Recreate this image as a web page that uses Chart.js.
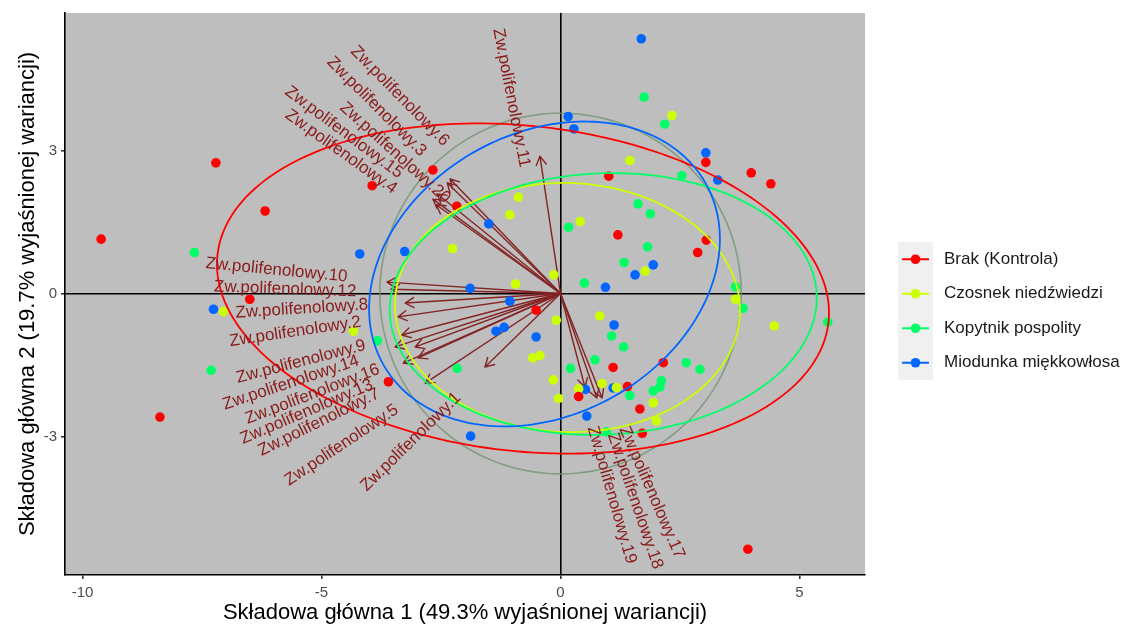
<!DOCTYPE html>
<html>
<head>
<meta charset="utf-8">
<script src="https://cdn.jsdelivr.net/npm/chart.js@4.4.1/dist/chart.umd.min.js"></script>
<style>
  html, body { margin: 0; padding: 0; background: #ffffff; }
  #wrap { width: 1129px; height: 628px; }
</style>
</head>
<body>
<div id="wrap"><canvas id="biplot" width="1129" height="628"></canvas></div>
<script>
// ---- Groups ----
const groups = ['Brak (Kontrola)', 'Czosnek niedźwiedzi', 'Kopytnik pospolity', 'Miodunka miękkowłosa'];

// ---- Sample scores on PC1 / PC2, one pair of arrays per group ----
const brakPC1 = [-7.21, -6.18, -9.61, -2.67, -3.94, -2.17, -6.50, -8.38, -3.60, -0.51, 1.01, 1.20, 3.05, 2.87, 3.04, 3.99, 4.40, 1.10, 2.15, 0.38, 1.40, 1.66, 1.71, 3.92];
const brakPC2 = [2.74, 1.73, 1.14, 2.59, 2.26, 1.83, -0.12, -2.59, -1.85, -0.35, 2.46, 1.23, 1.12, 0.86, 2.75, 2.53, 2.30, -1.55, -1.45, -2.16, -1.95, -2.42, -2.93, -5.36];

const czosnekPC1 = [-2.26, -0.88, -1.06, 0.41, 1.45, 2.33, 1.77, -0.14, -0.94, 3.66, 4.47, -7.05, -4.33, -0.09, 0.82, -0.43, -0.58, -0.15, -0.04, 0.38, 0.87, 1.17, 1.94, 2.01];
const czosnekPC2 = [0.94, 2.02, 1.65, 1.51, 2.79, 3.73, 0.47, 0.39, 0.20, -0.12, -0.68, -0.38, -0.79, -0.56, -0.47, -1.30, -1.35, -1.81, -2.20, -2.00, -1.89, -1.97, -2.29, -2.67];

const kopytnikPC1 = [-7.66, 1.75, 2.18, 2.54, 1.62, 1.88, 0.17, 1.82, 1.33, 0.50, 3.66, 3.82, 5.59, -7.31, -3.83, -2.16, 1.07, 1.32, 0.72, 0.21, 2.63, 2.92, 2.11, 2.08, 1.94, 1.45, 0.96];
const kopytnikPC2 = [0.86, 4.12, 3.55, 2.47, 1.88, 1.67, 1.39, 0.98, 0.65, 0.22, 0.14, -0.31, -0.60, -1.61, -0.99, -1.57, -0.89, -1.12, -1.39, -1.57, -1.45, -1.59, -1.83, -1.96, -2.04, -2.14, -2.90];

const miodunkaPC1 = [1.69, 0.16, 0.28, 3.04, 3.29, -1.50, 1.94, 1.56, 0.94, -1.89, -4.20, -3.26, -7.26, -1.06, -1.35, -1.18, -0.51, 1.12, 0.52, 0.55, -1.88, 1.10];
const miodunkaPC2 = [5.34, 3.71, 3.45, 2.95, 2.38, 1.46, 0.60, 0.39, 0.13, 0.11, 0.83, 0.88, -0.33, -0.16, -0.79, -0.71, -0.91, -0.66, -2.01, -2.57, -2.99, -1.98];

// ---- Variable loadings (arrow tips) ----
const variableNames = [
  'Zw.polifenolowy.1', 'Zw.polifenolowy.2', 'Zw.polifenolowy.3', 'Zw.polifenolowy.4', 'Zw.polifenolowy.5',
  'Zw.polifenolowy.6', 'Zw.polifenolowy.7', 'Zw.polifenolowy.8', 'Zw.polifenolowy.9', 'Zw.polifenolowy.10',
  'Zw.polifenolowy.11', 'Zw.polifenolowy.12', 'Zw.polifenolowy.13', 'Zw.polifenolowy.14', 'Zw.polifenolowy.15',
  'Zw.polifenolowy.16', 'Zw.polifenolowy.17', 'Zw.polifenolowy.18', 'Zw.polifenolowy.19', 'Zw.polifenolowy.20'
];
const loadingPC1 = [-1.58, -3.40, -2.37, -2.60, -2.83, -2.31, -2.98, -3.25, -3.32, -3.63, -0.43, -3.55, -3.29, -3.46, -2.67, -3.04, 0.87, 0.76, 0.51, -2.58];
const loadingPC2 = [-1.54, -0.49, 2.32, 1.86, -1.88, 2.40, -1.35, -0.20, -0.87, 0.24, 2.88, 0.09, -1.46, -1.12, 1.98, -1.12, -2.19, -2.19, -1.96, 2.09];

// ---- Normal-data ellipses per group: centre, semi-axes, rotation (deg) ----
const ellipseCenterPC1 = [-0.785, 0.146, 0.894, -0.335];
const ellipseCenterPC2 = [0.105, -0.293, -0.22, 0.41];
const ellipseSemiMajor = [6.43, 3.61, 4.47, 3.87];
const ellipseSemiMinor = [3.41, 2.61, 2.74, 2.95];
const ellipseAngle = [-6.3, -2.0, 2.6, 29.4];

// ---- Correlation circle ----
const circleRadius = 3.78;

// ---- Axis ticks ----
const xTicks = [-10, -5, 0, 5];
const yTicks = [-3, 0, 3];

// ---- Layout / style settings ----
const FONT = '"Liberation Sans", Arial, Helvetica, sans-serif';
const groupColors = ['#FF0000', '#CCFF00', '#00FF66', '#0066FF'];
const arrowColor = '#832424';
const labelColor = '#8B1A1A';
// variable label placement (centre in PC units, rotation in degrees)
const labelLayout = {
  pc1: [-3.13, -5.55, -3.85, -4.59, -4.58, -3.36, -5.05, -5.41, -5.43, -5.94, -1.03, -5.76, -5.31, -5.64, -4.53, -5.19, 1.91, 1.56, 1.07, -3.46],
  pc2: [-3.11, -0.80, 3.92, 2.97, -3.18, 4.14, -2.70, -0.32, -1.43, 0.49, 4.10, 0.09, -2.48, -1.87, 3.38, -2.11, -4.17, -4.35, -4.22, 2.95],
  rot: [-44.5, -8.5, 45, 35.6, -33.7, 45.5, -26.3, -3.6, -14.5, 5.5, 79, 2, -23, -18.4, 36.7, -20.9, 66.7, 71.3, 74, 42]
};

const scoresPC1 = [brakPC1, czosnekPC1, kopytnikPC1, miodunkaPC1];
const scoresPC2 = [brakPC2, czosnekPC2, kopytnikPC2, miodunkaPC2];

const datasets = groups.map((g, i) => ({
  label: g,
  data: scoresPC1[i].map((x, j) => ({ x: x, y: scoresPC2[i][j] })),
  backgroundColor: groupColors[i],
  borderWidth: 0,
  pointRadius: 4.8,
  pointHoverRadius: 4.8
}));

function clipArea(ctx, area) {
  ctx.beginPath();
  ctx.rect(area.left, area.top, area.right - area.left, area.bottom - area.top);
  ctx.clip();
}

const biplotLayers = {
  id: 'biplotLayers',
  beforeDraw(chart) {
    const { ctx, chartArea: a } = chart;
    ctx.save();
    ctx.fillStyle = '#ffffff';
    ctx.fillRect(0, 0, chart.width, chart.height);
    ctx.fillStyle = '#BEBEBE';
    ctx.fillRect(a.left, a.top, a.right - a.left, a.bottom - a.top);
    ctx.restore();
  },
  beforeDatasetsDraw(chart) {
    const { ctx, chartArea: a, scales: { x: xs, y: ys } } = chart;
    ctx.save();
    clipArea(ctx, a);
    // correlation circle
    ctx.strokeStyle = 'rgba(110,145,110,0.75)';
    ctx.lineWidth = 1.6;
    ctx.beginPath();
    for (let k = 0; k <= 200; k++) {
      const u = 2 * Math.PI * k / 200;
      const px = xs.getPixelForValue(circleRadius * Math.cos(u));
      const py = ys.getPixelForValue(circleRadius * Math.sin(u));
      if (k === 0) ctx.moveTo(px, py); else ctx.lineTo(px, py);
    }
    ctx.stroke();
    // loading arrows
    const x0 = xs.getPixelForValue(0), y0 = ys.getPixelForValue(0);
    ctx.strokeStyle = arrowColor;
    ctx.lineWidth = 1.4;
    ctx.lineCap = 'round';
    ctx.lineJoin = 'round';
    const headLen = 10, spread = Math.PI / 6;
    loadingPC1.forEach((lx, i) => {
      const x1 = xs.getPixelForValue(lx), y1 = ys.getPixelForValue(loadingPC2[i]);
      const ang = Math.atan2(y1 - y0, x1 - x0);
      ctx.beginPath();
      ctx.moveTo(x0, y0);
      ctx.lineTo(x1, y1);
      ctx.moveTo(x1 - headLen * Math.cos(ang - spread), y1 - headLen * Math.sin(ang - spread));
      ctx.lineTo(x1, y1);
      ctx.lineTo(x1 - headLen * Math.cos(ang + spread), y1 - headLen * Math.sin(ang + spread));
      ctx.stroke();
    });
    ctx.restore();
  },
  afterDatasetsDraw(chart) {
    const { ctx, chartArea: a, scales: { x: xs, y: ys } } = chart;
    ctx.save();
    clipArea(ctx, a);
    // group ellipses
    ctx.lineWidth = 1.8;
    groups.forEach((g, i) => {
      const t = ellipseAngle[i] * Math.PI / 180;
      const cx = ellipseCenterPC1[i], cy = ellipseCenterPC2[i];
      const ea = ellipseSemiMajor[i], eb = ellipseSemiMinor[i];
      ctx.strokeStyle = groupColors[i];
      ctx.beginPath();
      for (let k = 0; k <= 200; k++) {
        const u = 2 * Math.PI * k / 200;
        const ex = cx + ea * Math.cos(u) * Math.cos(t) - eb * Math.sin(u) * Math.sin(t);
        const ey = cy + ea * Math.cos(u) * Math.sin(t) + eb * Math.sin(u) * Math.cos(t);
        const px = xs.getPixelForValue(ex), py = ys.getPixelForValue(ey);
        if (k === 0) ctx.moveTo(px, py); else ctx.lineTo(px, py);
      }
      ctx.closePath();
      ctx.stroke();
    });
    // variable names
    ctx.fillStyle = labelColor;
    ctx.font = '17px ' + FONT;
    ctx.textAlign = 'center';
    ctx.textBaseline = 'middle';
    variableNames.forEach((name, i) => {
      const px = xs.getPixelForValue(labelLayout.pc1[i]);
      const py = ys.getPixelForValue(labelLayout.pc2[i]);
      ctx.save();
      ctx.translate(px, py);
      ctx.rotate(labelLayout.rot[i] * Math.PI / 180);
      ctx.fillText(name, 0, 0);
      ctx.restore();
    });
    ctx.restore();
  },
  afterDraw(chart) {
    const { ctx, chartArea: a } = chart;
    ctx.save();
    // axis titles
    ctx.fillStyle = '#000000';
    ctx.font = '22px ' + FONT;
    ctx.textAlign = 'center';
    ctx.textBaseline = 'middle';
    ctx.fillText('Składowa główna 1 (49.3% wyjaśnionej wariancji)', (a.left + a.right) / 2, 613);
    ctx.save();
    ctx.translate(28, (a.top + a.bottom) / 2);
    ctx.rotate(-Math.PI / 2);
    ctx.fillText('Składowa główna 2 (19.7% wyjaśnionej wariancji)', 0, 0);
    ctx.restore();
    // legend
    const keyX = 898, keyW = 35, keyTop = 242, keyH = 34.5;
    ctx.fillStyle = '#F0F0F0';
    ctx.fillRect(keyX, keyTop, keyW, keyH * groups.length);
    groups.forEach((g, i) => {
      const cy = keyTop + keyH * (i + 0.5);
      ctx.strokeStyle = groupColors[i];
      ctx.lineWidth = 2;
      ctx.beginPath();
      ctx.moveTo(keyX + 4, cy);
      ctx.lineTo(keyX + keyW - 4, cy);
      ctx.stroke();
      ctx.fillStyle = groupColors[i];
      ctx.beginPath();
      ctx.arc(keyX + keyW / 2, cy, 4.8, 0, Math.PI * 2);
      ctx.fill();
      ctx.fillStyle = '#1A1A1A';
      ctx.font = '17px ' + FONT;
      ctx.textAlign = 'left';
      ctx.textBaseline = 'middle';
      ctx.fillText(g, 944, cy);
    });
    ctx.restore();
  }
};

const zeroLine = (c) => (c.tick && c.tick.value === 0) ? '#000000' : 'rgba(0,0,0,0)';

new Chart(document.getElementById('biplot'), {
  type: 'scatter',
  data: { datasets: datasets },
  options: {
    responsive: false,
    animation: false,
    devicePixelRatio: 1,
    layout: { padding: { left: 0, right: 264, top: 13, bottom: 0 } },
    plugins: { legend: { display: false }, tooltip: { enabled: false } },
    scales: {
      x: {
        type: 'linear',
        min: -10.366,
        max: 6.370,
        afterBuildTicks: (s) => { s.ticks = xTicks.map(v => ({ value: v })); },
        afterFit: (s) => { s.height = 53; },
        ticks: { color: '#4D4D4D', font: { family: FONT, size: 15 }, padding: 5, callback: (v) => String(v) },
        grid: { drawOnChartArea: true, color: zeroLine, lineWidth: 1.6, tickColor: '#333333', tickLength: 4, drawTicks: true },
        border: { display: true, color: '#000000', width: 1.6 }
      },
      y: {
        type: 'linear',
        min: -5.901,
        max: 5.881,
        afterBuildTicks: (s) => { s.ticks = yTicks.map(v => ({ value: v })); },
        afterFit: (s) => { s.width = 65; },
        ticks: { color: '#4D4D4D', font: { family: FONT, size: 15 }, padding: 4, callback: (v) => String(v) },
        grid: { drawOnChartArea: true, color: zeroLine, lineWidth: 1.6, tickColor: '#333333', tickLength: 4, drawTicks: true },
        border: { display: true, color: '#000000', width: 1.6 }
      }
    }
  },
  plugins: [biplotLayers]
});
</script>
</body>
</html>
